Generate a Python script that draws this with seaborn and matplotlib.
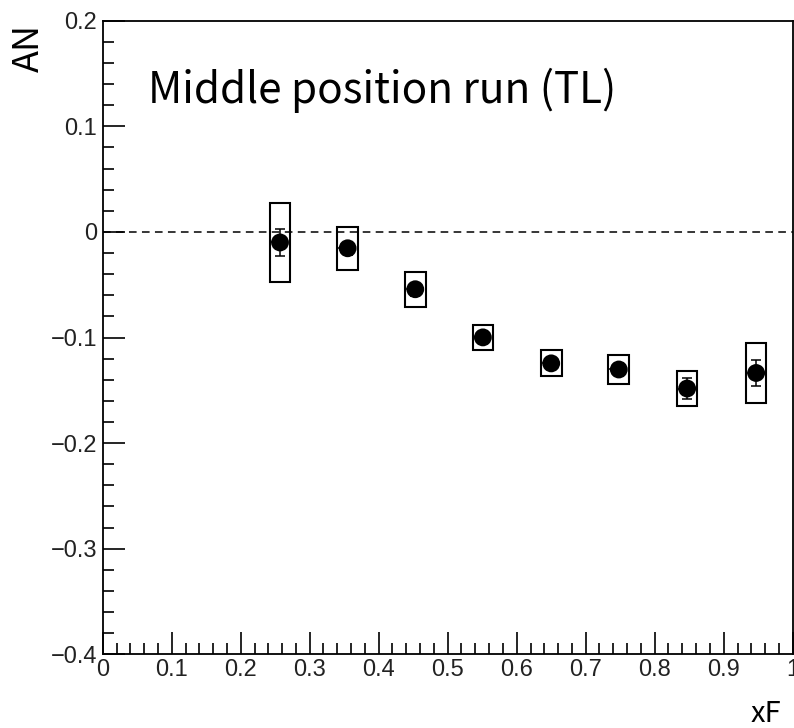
import matplotlib
matplotlib.use("Agg")
import matplotlib.pyplot as plt
from matplotlib.patches import Rectangle
from matplotlib.ticker import MultipleLocator, FixedLocator
import numpy as np
import pandas as pd
import seaborn as sns

# Measured single-spin asymmetry vs. xF, middle position run (TL)
xf = [0.257, 0.355, 0.453, 0.551, 0.650, 0.748, 0.847, 0.947]
an = [-0.010, -0.0155, -0.0543, -0.0999, -0.1245, -0.1303, -0.1483, -0.1336]
stat_err = [0.013, 0.006, 0.006, 0.004, 0.005, 0.006, 0.010, 0.0123]
sys_err = [0.037, 0.0205, 0.0165, 0.0115, 0.0122, 0.0138, 0.017, 0.028]
box_halfwidth = [0.015] * len(xf)

x_ticks = [0, 0.1, 0.2, 0.3, 0.4, 0.5, 0.6, 0.7, 0.8, 0.9, 1.0]
x_ticklabels = ["0", "0.1", "0.2", "0.3", "0.4", "0.5", "0.6", "0.7", "0.8", "0.9", "1"]
y_ticks = [-0.4, -0.3, -0.2, -0.1, 0, 0.1, 0.2]
y_ticklabels = ["\u22120.4", "\u22120.3", "\u22120.2", "\u22120.1", "0", "0.1", "0.2"]

title_text = "Middle position run (TL)"
y_title = "AN"
x_title = "xF"

df = pd.DataFrame({"xF": xf, "AN": an, "stat": stat_err,
                   "sys": sys_err, "hw": box_halfwidth})

sns.set_style("ticks")
plt.rcParams["font.family"] = ["Liberation Sans", "DejaVu Sans"]
label_family = ["Noto Sans CJK KR", "Noto Sans", "DejaVu Sans"]

W, H, DPI = 794, 728, 100
fig = plt.figure(figsize=(W / DPI, H / DPI), dpi=DPI)
ax = fig.add_axes([102.7 / W, 1 - 654.3 / H, (792.7 - 102.7) / W, (654.3 - 20.7) / H])

ax.set_xlim(0, 1.0)
ax.set_ylim(-0.4, 0.2)

# zero reference line
ax.axhline(0, color="black", lw=1.1, ls=(0, (5, 3.5)), zorder=1)

# systematic uncertainty boxes
for _, r in df.iterrows():
    ax.add_patch(Rectangle((r.xF - r.hw, r.AN - r.sys), 2 * r.hw, 2 * r.sys,
                           fill=False, edgecolor="black", lw=1.5, zorder=2))

# statistical error bars
ax.errorbar(df.xF, df.AN, yerr=df.stat, xerr=[df.hw, np.zeros(len(df))],
            fmt="none", ecolor="black", elinewidth=1.1, capsize=3.4,
            capthick=1.1, zorder=3)

# data points
sns.scatterplot(data=df, x="xF", y="AN", ax=ax, color="black", marker="o",
                s=165, edgecolor="none", zorder=4, legend=False)

ax.set_xlabel("")
ax.set_ylabel("")

ax.xaxis.set_major_locator(FixedLocator(x_ticks))
ax.set_xticklabels(x_ticklabels)
ax.xaxis.set_minor_locator(MultipleLocator(0.02))
ax.yaxis.set_major_locator(FixedLocator(y_ticks))
ax.set_yticklabels(y_ticklabels)
ax.yaxis.set_minor_locator(MultipleLocator(0.02))

ax.tick_params(which="both", direction="in", top=False, right=False,
               color="black", width=1.2)
ax.tick_params(which="major", length=15.5, labelsize=17)
ax.tick_params(which="minor", length=8)
ax.tick_params(axis="x", which="major", pad=3.5)
ax.tick_params(axis="y", which="major", pad=4)
for t in ax.get_xticklabels() + ax.get_yticklabels():
    t.set_color("#222222")

for s in ax.spines.values():
    s.set_visible(True)
    s.set_linewidth(1.3)
    s.set_color("black")

fig.text(148 / W, 1 - 103 / H, title_text, family=label_family,
         fontsize=30.4, ha="left", va="baseline", color="black")
fig.text(29 / W, 1 - 24 / H, y_title, family=label_family,
         fontsize=26, rotation=90, ha="center", va="top", color="black")
fig.text(781 / W, 1 - 722 / H, x_title, family=label_family,
         fontsize=21, ha="right", va="baseline", color="black")

fig.savefig("out.png", dpi=DPI)
